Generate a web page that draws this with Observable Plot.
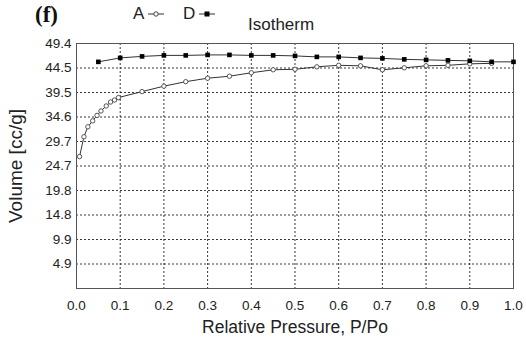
<!DOCTYPE html>
<html>
<head>
<meta charset="utf-8">
<script src="https://cdn.jsdelivr.net/npm/d3@7"></script>
<script src="https://cdn.jsdelivr.net/npm/@observablehq/plot@0.6"></script>
<style>
  html, body { margin: 0; padding: 0; background: #fff; }
  #wrap { position: relative; width: 526px; height: 341px; font-family: "Liberation Sans", Arial, sans-serif; color: #222; }
  #wrap svg.plot { position: absolute; left: 0; top: 0; }
  .tag { position: absolute; left: 35px; top: 2px; font-family: "Liberation Serif", "Times New Roman", serif; font-weight: bold; font-size: 23px; color: #111; }
  .leg { position: absolute; top: 4px; font-size: 17px; display: flex; align-items: center; }
  .title { position: absolute; left: 248px; top: 15px; font-size: 17px; }
</style>
</head>
<body>
<div id="wrap">
  <div class="tag">(f)</div>
  <div class="leg" id="legA" style="left:133px"></div>
  <div class="leg" id="legD" style="left:183px"></div>
  <div class="title">Isotherm</div>
</div>
<script>
// Adsorption branch (A)
const adsP = [0.007, 0.017, 0.026, 0.037, 0.047, 0.056, 0.068, 0.078, 0.087, 0.096,
              0.15, 0.20, 0.25, 0.30, 0.35, 0.40, 0.45, 0.50, 0.55, 0.60,
              0.65, 0.70, 0.75, 0.80, 0.85, 0.90, 0.95];
const adsV = [26.6, 30.6, 32.6, 33.8, 34.9, 35.8, 36.8, 37.6, 38.0, 38.5,
              39.7, 40.8, 41.7, 42.4, 42.8, 43.5, 44.1, 44.2, 44.7, 45.0,
              44.9, 44.1, 44.5, 44.9, 45.0, 45.3, 45.4];
// Desorption branch (D)
const desP = [0.05, 0.10, 0.15, 0.20, 0.25, 0.30, 0.35, 0.40, 0.45, 0.50,
              0.55, 0.60, 0.65, 0.70, 0.75, 0.80, 0.85, 0.90, 0.95, 1.00];
const desV = [45.7, 46.5, 46.8, 47.0, 47.0, 47.1, 47.1, 47.0, 47.0, 46.9,
              46.7, 46.7, 46.5, 46.4, 46.2, 46.1, 46.0, 45.9, 45.7, 45.7];

const xTicks = [0.0, 0.1, 0.2, 0.3, 0.4, 0.5, 0.6, 0.7, 0.8, 0.9, 1.0];
const yTicks = [4.94, 9.88, 14.82, 19.76, 24.7, 29.64, 34.58, 39.52, 44.46, 49.4];
const yTickLabels = ["4.9", "9.9", "14.8", "19.8", "24.7", "29.7", "34.6", "39.5", "44.5", "49.4"];

const ads = adsP.map((p, i) => ({p, v: adsV[i]}));
const des = desP.map((p, i) => ({p, v: desV[i]}));

const gridStyle = {stroke: "#222", strokeOpacity: 0.9, strokeDasharray: "2,2", strokeWidth: 1};

const chart = Plot.plot({
  width: 526,
  height: 341,
  marginLeft: 76,
  marginRight: 13,
  marginTop: 43,
  marginBottom: 53,
  style: {fontFamily: "'Liberation Sans', Arial, sans-serif", color: "#222", background: "transparent"},
  x: {domain: [0, 1]},
  y: {domain: [0, 49.4]},
  marks: [
    Plot.gridX(xTicks.slice(1, -1), gridStyle),
    Plot.gridY(yTicks.slice(0, -1), gridStyle),
    Plot.frame({stroke: "#555", strokeWidth: 1}),
    Plot.axisX({ticks: xTicks, tickSize: 0, tickPadding: 12, fontSize: 13.5,
                tickFormat: d => d.toFixed(1),
                label: "Relative Pressure, P/Po", labelAnchor: "center", labelArrow: "none", labelOffset: 44}),
    Plot.axisY({ticks: yTicks, tickSize: 0, tickPadding: 5, fontSize: 13.5,
                tickFormat: (d, i) => yTickLabels[i],
                label: "Volume [cc/g]", labelAnchor: "center", labelArrow: "none", labelOffset: 68}),
    Plot.line(ads, {x: "p", y: "v", stroke: "#333", strokeWidth: 1}),
    Plot.line(des, {x: "p", y: "v", stroke: "#333", strokeWidth: 1}),
    Plot.dot(ads, {x: "p", y: "v", r: 2.2, stroke: "#444", strokeWidth: 0.9, fill: "#fff"}),
    Plot.dot(des, {x: "p", y: "v", r: 2.6, symbol: "square", fill: "#000", stroke: "none"})
  ]
});
chart.classList.add("plot");
d3.select(chart).selectAll("g[aria-label='x-axis label'] text").style("font-size", "17.5px");
d3.select(chart).selectAll("g[aria-label='y-axis label'] text").style("font-size", "19px");
document.getElementById("wrap").prepend(chart);

// legend entries
function legend(id, label, square) {
  const el = d3.select("#" + id);
  el.append("span").text(label);
  const s = el.append("svg").attr("width", 18).attr("height", 10).style("margin-left", "3px");
  s.append("line").attr("x1", 1).attr("x2", 17).attr("y1", 5).attr("y2", 5).attr("stroke", "#333");
  if (square) s.append("rect").attr("x", 6.5).attr("y", 2.5).attr("width", 5).attr("height", 5).attr("fill", "#000");
  else s.append("circle").attr("cx", 9).attr("cy", 5).attr("r", 2.2).attr("fill", "#fff").attr("stroke", "#444");
}
legend("legA", "A", false);
legend("legD", "D", true);
</script>
</body>
</html>
